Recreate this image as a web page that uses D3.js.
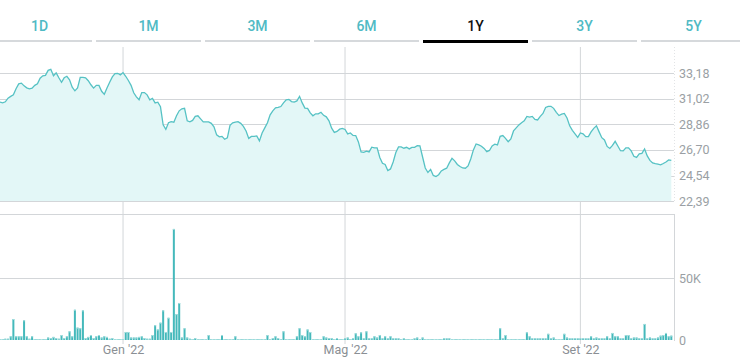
<!DOCTYPE html>
<html>
<head>
<meta charset="utf-8">
<script src="https://cdn.jsdelivr.net/npm/d3@7"></script>
<style>
  body { margin: 0; background: #fff; }
  svg { display: block; font-family: Roboto, "Noto Sans", sans-serif; }
</style>
</head>
<body>
<svg id="chart" width="740" height="363"></svg>
<script>
// Period tabs
var periods = ["1D", "1M", "3M", "6M", "1Y", "3Y", "5Y"];
var activePeriod = "1Y";

// Daily closes, one per trading day (about one year)
var closes = [
  30.74, 30.68, 30.77, 31.08, 31.23, 31.36, 31.87, 32.29, 32.35, 32.12,
  31.95, 31.87, 31.93, 32.16, 32.29, 32.77, 32.97, 33.01, 33.43, 33.52,
  32.97, 33.22, 32.80, 32.42, 32.80, 32.93, 32.63, 32.00, 31.70, 31.95,
  32.84, 32.84, 32.80, 32.55, 32.21, 31.93, 32.16, 32.16, 31.66, 31.40,
  31.93, 32.42, 32.88, 33.15, 33.18, 33.05, 33.24, 32.93, 32.57, 32.16,
  31.53, 31.19, 30.94, 31.55, 31.55, 31.36, 30.94, 31.06, 30.68, 30.74,
  30.35, 28.82, 28.44, 29.00, 29.10, 29.05, 29.59, 30.01, 30.18, 30.22,
  29.16, 29.08, 29.20, 29.54, 29.59, 29.33, 29.08, 29.08, 29.08, 28.95,
  28.65, 27.98, 27.81, 27.85, 27.61, 27.72, 28.78, 29.00, 29.05, 29.10,
  28.95, 28.70, 28.31, 27.68, 27.85, 27.85, 27.89, 27.47, 28.14, 28.57,
  29.00, 29.67, 30.01, 30.26, 30.30, 30.37, 30.68, 30.94, 30.98, 30.79,
  30.74, 30.85, 31.23, 30.68, 30.24, 30.22, 29.84, 29.59, 29.76, 29.76,
  29.89, 29.63, 29.50, 29.16, 28.54, 28.19, 28.27, 28.46, 28.53, 28.44,
  28.06, 28.14, 27.93, 27.92, 27.38, 26.54, 26.50, 26.60, 26.54, 26.94,
  26.88, 26.88, 26.07, 25.58, 25.48, 24.97, 25.10, 25.69, 26.49, 26.96,
  26.96, 26.85, 26.93, 26.79, 26.92, 26.92, 27.06, 27.04, 26.11, 25.18,
  24.80, 25.06, 24.55, 24.46, 24.61, 24.93, 25.06, 25.16, 25.61, 25.99,
  25.78, 25.48, 25.31, 25.18, 25.16, 25.35, 25.94, 26.71, 27.21, 27.13,
  27.02, 26.83, 26.56, 26.66, 27.04, 27.19, 27.13, 27.85, 27.92, 27.68,
  27.40, 27.64, 28.31, 28.57, 28.82, 29.01, 29.16, 29.54, 29.48, 29.54,
  29.29, 29.24, 29.54, 29.79, 30.30, 30.39, 30.39, 30.22, 29.88, 29.61,
  29.73, 29.79, 29.41, 28.74, 28.36, 28.06, 27.76, 28.14, 28.06, 27.83,
  27.83, 28.23, 28.53, 28.74, 28.23, 27.74, 27.55, 27.00, 26.83, 27.09,
  27.43, 27.04, 26.64, 26.62, 26.88, 26.88, 26.62, 26.17, 26.07, 26.37,
  26.41, 26.79, 26.20, 25.82, 25.61, 25.54, 25.50, 25.44, 25.56, 25.69,
  25.86, 25.82
];

// Daily volumes, thousands of shares
var volumes = [
  0.5, 0.5, 1, 1, 3, 17, 3, 3, 3, 16,
  3, 1, 3, 0.5, 0.5, 0.5, 0.5, 0.5, 2, 1.5,
  2.5, 1.5, 1, 4, 1.5, 3, 7, 3, 24.5, 10,
  9.5, 24, 1.5, 2.5, 4, 1.5, 3, 4, 2, 3,
  2.5, 1, 1.5, 0.5, 0.5, 0.5, 0.5, 6.5, 6.5, 2,
  2, 2, 2.5, 3, 1.5, 1, 1, 4, 12, 8.5,
  14, 24, 6.5, 18, 6.5, 90, 21, 30, 2, 9.5,
  2, 1, 0.5, 1.5, 0.5, 0.5, 0.5, 0.5, 4, 0.5,
  0.5, 0.5, 0.5, 4, 0.5, 0.5, 0.5, 0.5, 3, 0.5,
  0.5, 0.5, 0.5, 0.5, 0.5, 0.5, 0.5, 0.5, 0.5, 0.5,
  4, 0.5, 1.5, 3, 1.5, 0.5, 7, 0.5, 0.5, 0.5,
  0.5, 3, 9.5, 4, 3, 8.5, 6.5, 0.5, 0.5, 0.5,
  0.5, 3, 2, 1.5, 1.5, 0.5, 1.5, 0.5, 0.5, 1.3,
  2, 0.5, 1.3, 5.4, 3, 6.2, 1.3, 7, 1.3, 1.3,
  3, 2, 4, 1.3, 3, 1.3, 3, 1.3, 1.3, 1.3,
  0.8, 1.3, 0.8, 0.8, 0.8, 1.3, 2, 0.8, 2, 0.8,
  0.8, 0.8, 0.8, 0.8, 0.8, 0.8, 1.3, 1.3, 1.3, 0.3,
  0.3, 0.3, 0.5, 0.3, 0.3, 0.3, 0.5, 0.3, 0.3, 0.3,
  0.5, 0.3, 0.3, 0.5, 0.3, 0.3, 0.8, 9.5, 1.3, 4,
  0.8, 0.8, 0.8, 0.8, 0.8, 0.8, 0.8, 6.2, 3, 1.3,
  1.3, 1.3, 1.3, 1.3, 1.3, 5, 1.3, 2, 0.8, 0.8,
  0.8, 5, 2, 1.3, 1.3, 1.3, 1.3, 1.3, 1.3, 1.3,
  1.3, 3, 1.3, 2, 1.3, 1.3, 1.3, 3, 1.3, 5.7,
  3, 3, 1.3, 1.3, 4, 4, 1.3, 2, 2, 1.3,
  1.3, 13, 1.3, 2, 1.3, 1.3, 2, 3.5, 4, 5.7,
  3, 3.5
];

// Axis ticks
var priceTicks = [22.39, 24.54, 26.70, 28.86, 31.02, 33.18];
var volumeTicks = [0, 50000];
var monthTicks = [46, 129, 217];          // trading-day index of first session
var monthLabels = ["Gen '22", "Mag '22", "Set '22"];

var svg = d3.select("#chart");
var plotW = 674;
var gridColor = "#d3d6d9";
var labelColor = "#9a9fa4";

/* ---------- tabs ---------- */
var tabX = d3.scaleBand().domain(periods).range([-13, 746]).paddingInner(4 / 109);

var tabs = svg.append("g").selectAll("g")
    .data(periods)
    .enter()
  .append("g")
    .attr("transform", function(d) { return "translate(" + tabX(d) + ",0)"; });

tabs.append("rect")
    .attr("y", function(d) { return d === activePeriod ? 40 : 40; })
    .attr("width", tabX.bandwidth())
    .attr("height", function(d) { return d === activePeriod ? 3 : 2; })
    .style("fill", function(d) { return d === activePeriod ? "#000" : "#d6d9dc"; });

tabs.append("text")
    .attr("x", tabX.bandwidth() / 2)
    .attr("y", 31)
    .attr("text-anchor", "middle")
    .style("font-size", "14px")
    .style("font-weight", 500)
    .style("fill", function(d) { return d === activePeriod ? "#111" : "#4fbac4"; })
    .text(function(d) { return d; });

/* ---------- scales ---------- */
var x = d3.scaleLinear().domain([0, 252]).range([0, plotW]);
var y = d3.scaleLinear().domain([22.39, 33.18]).range([201, 73.3]);
var yv = d3.scaleLinear().domain([0, 50000]).range([340, 278.3]);

/* ---------- grid ---------- */
// vertical month lines
svg.append("g").selectAll("line")
    .data(monthTicks)
    .enter()
  .append("line")
    .attr("x1", function(d) { return x(d); })
    .attr("x2", function(d) { return x(d); })
    .attr("y1", 47)
    .attr("y2", 344)
    .style("stroke", gridColor);

// price gridlines
svg.append("g").selectAll("line")
    .data(priceTicks)
    .enter()
  .append("line")
    .attr("x1", 0)
    .attr("x2", plotW)
    .attr("y1", function(d) { return Math.round(y(d)) + 0.5; })
    .attr("y2", function(d) { return Math.round(y(d)) + 0.5; })
    .style("stroke", gridColor);

// right edge of price panel (dotted)
svg.append("line")
    .attr("x1", plotW + 0.5).attr("x2", plotW + 0.5)
    .attr("y1", 47).attr("y2", 201)
    .style("stroke", "#e2e4e6")
    .style("stroke-dasharray", "1,2");

// volume panel frame + 50K line
svg.append("line")
    .attr("x1", 0).attr("x2", plotW)
    .attr("y1", 214.5).attr("y2", 214.5)
    .style("stroke", gridColor);
svg.append("line")
    .attr("x1", plotW + 0.5).attr("x2", plotW + 0.5)
    .attr("y1", 214).attr("y2", 341)
    .style("stroke", gridColor);
svg.append("line")
    .attr("x1", 0).attr("x2", plotW)
    .attr("y1", Math.round(yv(50000)) + 0.5).attr("y2", Math.round(yv(50000)) + 0.5)
    .style("stroke", gridColor);

/* ---------- price area + line ---------- */
var area = d3.area()
    .x(function(d, i) { return x(i); })
    .y0(y(22.39))
    .y1(function(d) { return y(d); });

var line = d3.line()
    .x(function(d, i) { return x(i); })
    .y(function(d) { return y(d); });

svg.append("path")
    .datum(closes)
    .attr("d", area)
    .style("fill", "#e3f7f7");

svg.append("path")
    .datum(closes)
    .attr("d", line)
    .style("fill", "none")
    .style("stroke", "#56c2c4")
    .style("stroke-width", 1.3);

/* ---------- volume bars ---------- */
var bars = svg.append("g").selectAll("g")
    .data(volumes)
    .enter()
  .append("g");

bars.append("rect")
    .attr("x", function(d, i) { return x(i) - 1; })
    .attr("width", 2)
    .attr("y", function(d) { return Math.min(yv(d * 1000), 339); })
    .attr("height", function(d) { return Math.max(340 - yv(d * 1000), 1); })
    .style("fill", "#45b9bb");

bars.append("rect")
    .attr("x", function(d, i) { return x(i) - 1; })
    .attr("width", 2)
    .attr("y", function(d) { return Math.min(yv(d * 1000), 339); })
    .attr("height", 1)
    .style("fill", "#a3dddd");

/* ---------- axes ---------- */
var priceAxis = d3.axisRight(y)
    .tickValues(priceTicks)
    .tickSize(0)
    .tickPadding(5)
    .tickFormat(function(d) { return d3.format(".2f")(d).replace(".", ","); });

svg.append("g")
    .attr("transform", "translate(" + plotW + ",0)")
    .call(priceAxis)
    .call(function(g) { g.select(".domain").remove(); })
    .selectAll("text")
    .style("font-size", "12.5px")
    .style("font-family", "Roboto, sans-serif")
    .style("fill", labelColor);

var volAxis = d3.axisRight(yv)
    .tickValues(volumeTicks)
    .tickSize(0)
    .tickPadding(5)
    .tickFormat(function(d) { return d === 0 ? "0" : d / 1000 + "K"; });

svg.append("g")
    .attr("transform", "translate(" + plotW + ",0)")
    .call(volAxis)
    .call(function(g) { g.select(".domain").remove(); })
    .selectAll("text")
    .style("font-size", "12.5px")
    .style("font-family", "Roboto, sans-serif")
    .style("fill", labelColor);

var monthAxis = d3.axisBottom(x)
    .tickValues(monthTicks)
    .tickSize(0)
    .tickPadding(4)
    .tickFormat(function(d, i) { return monthLabels[i]; });

svg.append("g")
    .attr("transform", "translate(0,341)")
    .call(monthAxis)
    .call(function(g) { g.select(".domain").remove(); })
    .selectAll("text")
    .style("font-size", "12.5px")
    .style("font-family", "Roboto, sans-serif")
    .style("fill", "#8a8f94");
</script>
</body>
</html>
